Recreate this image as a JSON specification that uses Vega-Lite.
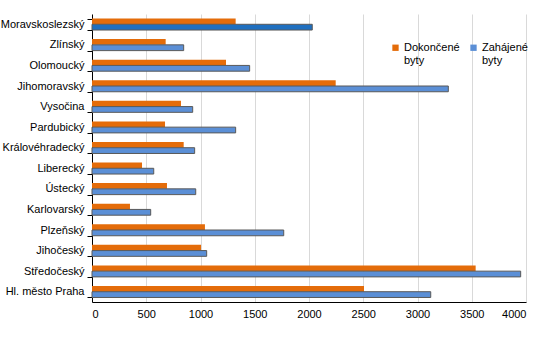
{
  "$schema": "https://vega.github.io/schema/vega-lite/v6.json",
  "width": 434,
  "height": 288,
  "padding": {"left": 0, "top": 8, "right": 5, "bottom": 5},
  "background": "white",
  "config": {
    "font": "Liberation Sans",
    "view": {"stroke": null},
    "axis": {"labelFont": "Liberation Sans", "labelFontSize": 11, "labelColor": "#000000"},
    "legend": {"labelFont": "Liberation Sans", "labelFontSize": 11, "labelColor": "#000000"}
  },
  "data": {
    "values": [
      {"region": "Moravskoslezský", "series": "Dokončené byty", "value": 1324},
      {"region": "Moravskoslezský", "series": "Zahájené byty", "value": 2030},
      {"region": "Zlínský", "series": "Dokončené byty", "value": 679},
      {"region": "Zlínský", "series": "Zahájené byty", "value": 845},
      {"region": "Olomoucký", "series": "Dokončené byty", "value": 1235},
      {"region": "Olomoucký", "series": "Zahájené byty", "value": 1453},
      {"region": "Jihomoravský", "series": "Dokončené byty", "value": 2246},
      {"region": "Jihomoravský", "series": "Zahájené byty", "value": 3284},
      {"region": "Vysočina", "series": "Dokončené byty", "value": 820},
      {"region": "Vysočina", "series": "Zahájené byty", "value": 928},
      {"region": "Pardubický", "series": "Dokončené byty", "value": 673},
      {"region": "Pardubický", "series": "Zahájené byty", "value": 1324},
      {"region": "Královéhradecký", "series": "Dokončené byty", "value": 845},
      {"region": "Královéhradecký", "series": "Zahájené byty", "value": 946},
      {"region": "Liberecký", "series": "Dokončené byty", "value": 461},
      {"region": "Liberecký", "series": "Zahájené byty", "value": 569},
      {"region": "Ústecký", "series": "Dokončené byty", "value": 691},
      {"region": "Ústecký", "series": "Zahájené byty", "value": 956},
      {"region": "Karlovarský", "series": "Dokončené byty", "value": 350},
      {"region": "Karlovarský", "series": "Zahájené byty", "value": 541},
      {"region": "Plzeňský", "series": "Dokončené byty", "value": 1041},
      {"region": "Plzeňský", "series": "Zahájené byty", "value": 1767},
      {"region": "Jihočeský", "series": "Dokončené byty", "value": 1005},
      {"region": "Jihočeský", "series": "Zahájené byty", "value": 1057},
      {"region": "Středočeský", "series": "Dokončené byty", "value": 3536},
      {"region": "Středočeský", "series": "Zahájené byty", "value": 3951},
      {"region": "Hl. město Praha", "series": "Dokončené byty", "value": 2507},
      {"region": "Hl. město Praha", "series": "Zahájené byty", "value": 3122}
    ]
  },
  "mark": {"type": "bar"},
  "encoding": {
    "y": {
      "field": "region",
      "type": "nominal",
      "sort": ["Moravskoslezský", "Zlínský", "Olomoucký", "Jihomoravský", "Vysočina", "Pardubický", "Královéhradecký", "Liberecký", "Ústecký", "Karlovarský", "Plzeňský", "Jihočeský", "Středočeský", "Hl. město Praha"],
      "scale": {"paddingInner": 0.44, "paddingOuter": 0.22},
      "axis": {"title": null, "domainColor": "#000000", "tickColor": "#000000", "tickSize": 5, "tickBand": "extent", "labelPadding": 3, "grid": false}
    },
    "yOffset": {"field": "series", "type": "nominal", "sort": ["Dokončené byty", "Zahájené byty"]},
    "x": {
      "field": "value",
      "type": "quantitative",
      "scale": {"domain": [0, 4000]},
      "axis": {"title": null, "values": [0, 500, 1000, 1500, 2000, 2500, 3000, 3500, 4000], "format": "d", "grid": true, "gridColor": "#d9d9d9", "domainColor": "#000000", "ticks": false, "labelPadding": 6}
    },
    "color": {
      "condition": {"test": "datum.region === 'Moravskoslezský' && datum.series === 'Zahájené byty'", "value": "#1F6FBF"},
      "field": "series",
      "type": "nominal",
      "scale": {"domain": ["Dokončené byty", "Zahájené byty"], "range": ["#E46C0A", "#5B8FD6"]},
      "legend": {
        "title": null,
        "orient": "none",
        "legendX": 298,
        "legendY": 28,
        "direction": "horizontal",
        "symbolType": "square",
        "symbolSize": 40,
        "symbolStrokeWidth": 0,
        "columnPadding": 8,
        "labelOffset": 3,
        "labelExpr": "split(datum.label, ' ')",
        "labelBaseline": "middle"
      }
    },
    "stroke": {
      "condition": {"test": "datum.series === 'Zahájené byty'", "value": "#595959"},
      "value": null
    },
    "strokeWidth": {"value": 1}
  }
}
